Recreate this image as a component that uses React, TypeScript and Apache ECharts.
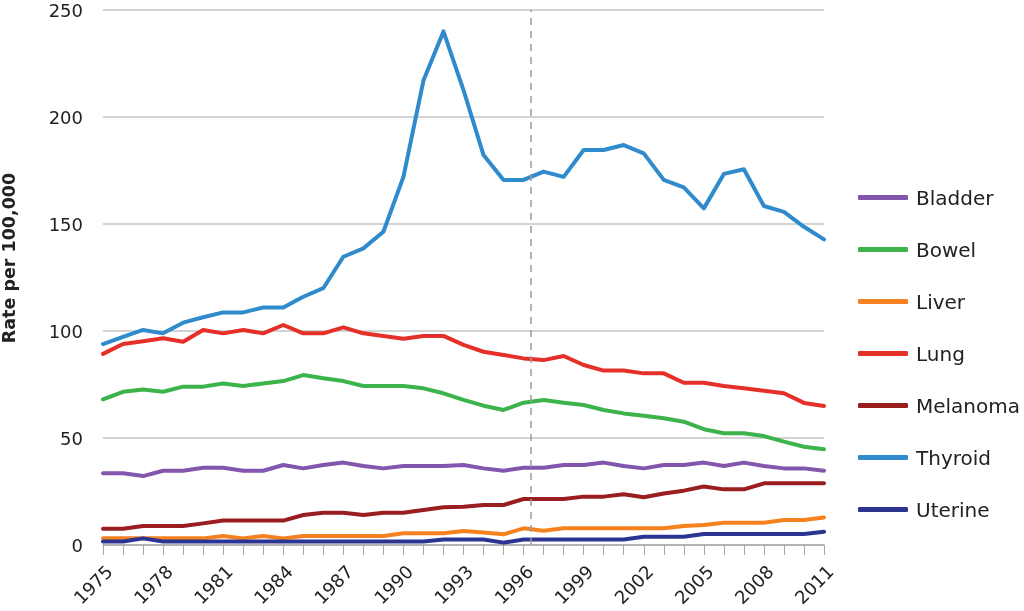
import React, { useEffect, useRef } from "react";
import * as echarts from "echarts";

const years: string[] = [];
for (let y = 1975; y <= 2011; y++) years.push(String(y));

const bladder = [33.5, 33.5, 32.2, 34.7, 34.7, 36.1, 36.1, 34.7, 34.7, 37.4, 35.8, 37.4, 38.5, 36.9, 35.8, 36.9, 36.9, 36.9, 37.4, 35.8, 34.7, 36.1, 36.1, 37.4, 37.4, 38.5, 36.9, 35.8, 37.4, 37.4, 38.5, 36.9, 38.5, 36.9, 35.8, 35.8, 34.7];
const bowel = [68.1, 71.6, 72.7, 71.6, 74, 74, 75.5, 74.3, 75.5, 76.6, 79.4, 77.9, 76.6, 74.3, 74.3, 74.3, 73.2, 70.9, 67.8, 65.1, 63.1, 66.5, 67.8, 66.5, 65.4, 63.1, 61.5, 60.4, 59.2, 57.6, 54.1, 52.2, 52.2, 50.9, 48.3, 45.9, 44.7];
const liver = [3.1, 3.1, 3.1, 3.1, 3.1, 3.1, 4.2, 3.1, 4.2, 3.1, 4.2, 4.2, 4.2, 4.2, 4.2, 5.5, 5.5, 5.5, 6.5, 5.8, 5.0, 7.8, 6.7, 7.8, 7.8, 7.8, 7.8, 7.8, 7.8, 8.9, 9.3, 10.4, 10.4, 10.4, 11.7, 11.7, 12.9];
const lung = [89.3, 93.9, 95.2, 96.6, 95, 100.5, 98.9, 100.5, 98.9, 102.8, 98.9, 98.9, 101.7, 98.9, 97.7, 96.4, 97.7, 97.7, 93.5, 90.3, 88.8, 87.2, 86.4, 88.3, 84.1, 81.5, 81.5, 80.2, 80.2, 75.8, 75.8, 74.3, 73.2, 72.1, 70.9, 66.4, 65];
const melanoma = [7.6, 7.6, 8.9, 8.9, 8.9, 10.1, 11.4, 11.4, 11.4, 11.4, 14, 15.1, 15.1, 14, 15.1, 15.1, 16.4, 17.6, 17.9, 18.7, 18.7, 21.5, 21.5, 21.5, 22.6, 22.6, 23.7, 22.3, 24.1, 25.4, 27.3, 26, 26, 28.8, 28.8, 28.8, 28.8];
const thyroid = [93.9, 97.3, 100.5, 98.9, 103.9, 106.4, 108.7, 108.7, 111, 111, 116, 120, 134.7, 138.6, 146.4, 172, 217, 240, 212.6, 182.2, 170.6, 170.6, 174.5, 172, 184.6, 184.6, 186.9, 183, 170.6, 167.1, 157.3, 173.4, 175.6, 158.4, 155.7, 148.7, 142.8];
const uterine = [1.6, 1.6, 3.1, 1.6, 1.6, 1.6, 1.6, 1.6, 1.6, 1.6, 1.6, 1.6, 1.6, 1.6, 1.6, 1.6, 1.6, 2.6, 2.6, 2.6, 1.1, 2.6, 2.6, 2.6, 2.6, 2.6, 2.6, 3.9, 3.9, 3.9, 5.1, 5.1, 5.1, 5.1, 5.1, 5.1, 6.2];

const seriesNames = ["Bladder", "Bowel", "Liver", "Lung", "Melanoma", "Thyroid", "Uterine"];
const seriesData = [bladder, bowel, liver, lung, melanoma, thyroid, uterine];
const colors = ["#8256ad", "#3cb44b", "#f5821f", "#e5302a", "#9a1d1f", "#2f8bcb", "#2b3591"];
// dashed divider sits just after the 1996 point (year 1996.35)
const dividerYear = 1996.35;
const firstYear = 1975;
const lastYear = 2011;

const FONT = "'DejaVu Sans', 'Liberation Sans', Arial, sans-serif";

export default function App() {
  const ref = useRef<HTMLDivElement>(null);
  useEffect(() => {
    if (!ref.current) return;
    const chart = echarts.init(ref.current, null, { renderer: "svg" });
    const series: any[] = seriesNames.map((name, i) => ({
      name,
      type: "line",
      data: seriesData[i],
      symbol: "none",
      z: i === 5 ? 3 : 2,
      lineStyle: { width: 4, color: colors[i], join: "round", cap: "round" },
      itemStyle: { color: colors[i] },
    }));
    series.push({
      type: "line",
      xAxisIndex: 1,
      data: [],
      z: 1,
      markLine: {
        silent: true,
        symbol: ["none", "none"],
        label: { show: false },
        lineStyle: { type: [7, 6], color: "#9a9a9a", width: 1.5 },
        data: [{ xAxis: dividerYear }],
      },
    });
    chart.setOption({
      animation: false,
      textStyle: { fontFamily: FONT },
      grid: { left: 103, right: 200, top: 10, bottom: 66 },
      legend: {
        orient: "vertical",
        left: 853,
        top: 182,
        icon: "roundRect",
        itemWidth: 50,
        itemHeight: 5,
        itemGap: 31,
        data: seriesNames,
        textStyle: { fontSize: 20, color: "#222", fontFamily: FONT, lineHeight: 21, padding: [0, 0, 0, 3] },
      },
      xAxis: [
        {
          type: "category",
          data: years,
          boundaryGap: false,
          axisLine: { lineStyle: { color: "#a8a8a8", width: 1.5 } },
          axisTick: { show: true, interval: 0, length: 10, lineStyle: { color: "#a8a8a8", width: 1 } },
          axisLabel: {
            interval: 2,
            rotate: 45,
            fontSize: 18,
            color: "#222",
            margin: 17,
            verticalAlign: "top",
            fontFamily: FONT,
          },
          splitLine: { show: false },
        },
        {
          type: "value",
          min: firstYear,
          max: lastYear,
          show: false,
          position: "bottom",
        },
      ],
      yAxis: {
        type: "value",
        min: 0,
        max: 250,
        interval: 50,
        axisLine: { show: false },
        axisTick: { show: false },
        axisLabel: { fontSize: 18, color: "#222", margin: 20, fontFamily: FONT },
        splitLine: { lineStyle: { color: "#c4c4c4", width: 1.5 } },
      },
      graphic: [
        {
          type: "text",
          x: 9,
          y: 258,
          rotation: Math.PI / 2,
          style: {
            text: "Rate per 100,000",
            fontSize: 17.5,
            fontWeight: "bold",
            fill: "#222",
            fontFamily: FONT,
            align: "center",
            verticalAlign: "middle",
          },
        },
      ],
      series,
    });
    return () => chart.dispose();
  }, []);
  return <div ref={ref} style={{ position: "fixed", left: 0, top: 0, width: 1024, height: 611 }} />;
}
